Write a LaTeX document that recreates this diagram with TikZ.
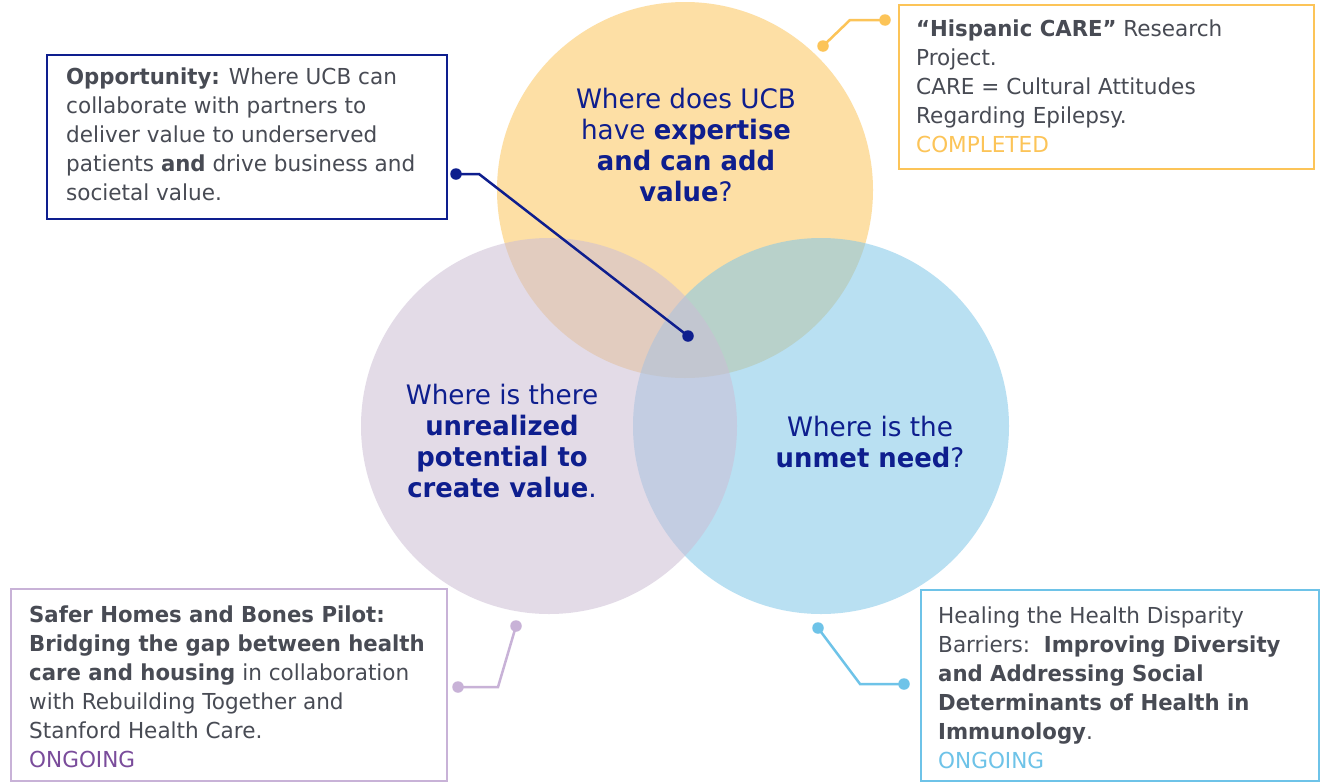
\documentclass[tikz,border=0pt]{standalone}
\usepackage{fontspec}
\setmainfont{DejaVu Sans}[FakeStretch=0.98, BoldFeatures={FakeStretch=0.965}]
\definecolor{navy}{RGB}{14,30,142}
\definecolor{txtgray}{RGB}{72,75,84}
\definecolor{ylw}{RGB}{253,223,165}
\definecolor{ylwline}{RGB}{252,196,88}
\definecolor{bluefill}{RGB}{128,199,233}
\definecolor{blueline}{RGB}{110,195,232}
\definecolor{purpfill}{RGB}{204,190,213}
\definecolor{purpline}{RGB}{200,178,215}
\definecolor{purptxt}{RGB}{122,76,155}
\tikzset{
  venn/.style={circle, minimum size=376pt, inner sep=0pt},
  qtext/.style={anchor=north, align=center, text=navy, inner sep=0pt, font=\fontsize{26.8}{31}\selectfont},
  infobox/.style={draw, line width=2pt, anchor=north west, inner sep=0pt},
  infotext/.style={anchor=north west, align=left, text=txtgray, inner sep=0pt, font=\fontsize{22}{29}\selectfont},
  dot/.style={circle, inner sep=0pt, minimum size=11.5pt},
  conn/.style={line width=2.5pt},
}
\begin{document}
\begin{tikzpicture}[x=1pt,y=-1pt]
\path[fill=white, use as bounding box] (0,0) rectangle (1327,782);
% circles
\node[venn, fill=ylw] (yc) at (685,190) {};
\node[venn, fill=bluefill, fill opacity=0.55] (bc) at (821,426) {};
\node[venn, fill=purpfill, fill opacity=0.55] (pc) at (549,426) {};
% circle texts
\node[qtext] (yq) at (686,88) {Where does UCB\\ have \textbf{expertise}\\ \textbf{and can add}\\ \textbf{value}?};
\node[qtext] (pq) at (502,384) {Where is there\\ \textbf{unrealized}\\ \textbf{potential to}\\ \textbf{create value}.};
\node[qtext] (bq) at (870,416) {Where is the\\ \textbf{unmet need}?};
% boxes
\node[infobox, draw=navy, minimum width=400pt, minimum height=164pt] (oppbox) at (46,54) {};
\node[infotext] (opptext) at (66,68) {\textbf{Opportunity:} Where UCB can\\ collaborate with partners to\\ deliver value to underserved\\ patients \textbf{and} drive business and\\ societal value.};
\node[infobox, draw=ylwline, minimum width=415pt, minimum height=164pt] (hisbox) at (898,4) {};
\node[infotext] (histext) at (916,20) {\textbf{“Hispanic CARE”} Research\\ Project.\\ CARE = Cultural Attitudes\\ Regarding Epilepsy.\\ \textcolor{ylwline}{COMPLETED}};
\node[infobox, draw=purpline, minimum width=436pt, minimum height=192pt] (safbox) at (10,588) {};
\node[infotext] (saftext) at (29,606) {\textbf{Safer Homes and Bones Pilot:}\\ \textbf{Bridging the gap between health}\\ \textbf{care and housing} in collaboration\\ with Rebuilding Together and\\ Stanford Health Care.\\ \textcolor{purptxt}{ONGOING}};
\node[infobox, draw=blueline, minimum width=398pt, minimum height=191pt] (healbox) at (920,589) {};
\node[infotext] (healtext) at (938,607) {Healing the Health Disparity\\ Barriers:\ \ \textbf{Improving Diversity}\\ \textbf{and Addressing Social}\\ \textbf{Determinants of Health in}\\ \textbf{Immunology}.\\ \textcolor{blueline}{ONGOING}};
% connectors
\node[dot, fill=navy] (nd1) at (456,174) {};
\node[dot, fill=navy] (nd2) at (688,336) {};
\coordinate (nb) at (479,174);
\draw[conn, navy] (nd1.center) -- (nb) -- (nd2.center);
\node[dot, fill=ylwline] (yd1) at (885,20) {};
\node[dot, fill=ylwline] (yd2) at (823,46) {};
\coordinate (yb) at (850,20);
\draw[conn, ylwline] (yd1.center) -- (yb) -- (yd2.center);
\node[dot, fill=purpline] (pd1) at (516,626) {};
\node[dot, fill=purpline] (pd2) at (458,687) {};
\coordinate (pb) at (498,687);
\draw[conn, purpline] (pd1.center) -- (pb) -- (pd2.center);
\node[dot, fill=blueline] (bd1) at (818,628) {};
\node[dot, fill=blueline] (bd2) at (904,684) {};
\coordinate (bb) at (860,684);
\draw[conn, blueline] (bd1.center) -- (bb) -- (bd2.center);
\end{tikzpicture}
\end{document}
